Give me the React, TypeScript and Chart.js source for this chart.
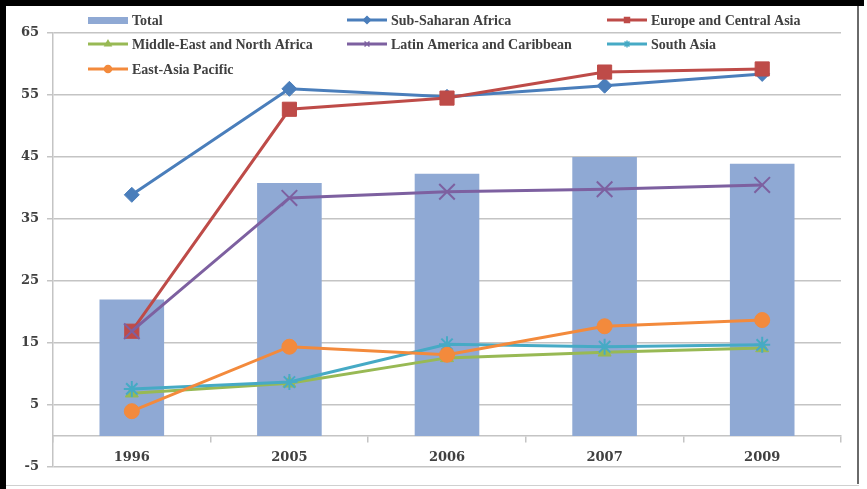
import React, { useEffect, useRef } from "react";
import { Chart, registerables } from "chart.js";
import { drawPoint } from "chart.js/helpers";

Chart.register(...registerables);

// Survey years on the category axis
const years = ["1996", "2005", "2006", "2007", "2009"];

// Series values (percent)
const total = [22, 40.8, 42.3, 45, 43.9];
const subSaharanAfrica = [38.9, 56, 54.7, 56.5, 58.4];
const europeCentralAsia = [16.9, 52.7, 54.5, 58.7, 59.2];
const middleEastNorthAfrica = [6.9, 8.5, 12.6, 13.5, 14.2];
const latinAmericaCaribbean = [16.9, 38.4, 39.4, 39.8, 40.5];
const southAsia = [7.6, 8.7, 14.8, 14.4, 14.7];
const eastAsiaPacific = [4, 14.4, 13.1, 17.7, 18.7];

// Value axis ticks
const yTicks = [-5, 5, 15, 25, 35, 45, 55, 65];

const GRID = "#C4C4C4";
const TEXT = "#404040";

function lineSeries(
  label: string,
  data: number[],
  color: string,
  pointStyle: string,
  radius: number,
  order: number,
  pointBorderWidth = 1
) {
  return {
    type: "line" as const,
    label,
    data,
    borderColor: color,
    backgroundColor: color,
    borderWidth: 3,
    pointStyle,
    pointRadius: radius,
    pointHoverRadius: radius,
    pointBackgroundColor: color,
    pointBorderColor: color,
    pointBorderWidth,
    tension: 0,
    fill: false,
    order,
  };
}

// Three-column legend laid over the top of the plot
const gridLegend = {
  id: "gridLegend",
  afterDraw(chart: any) {
    const ctx: CanvasRenderingContext2D = chart.ctx;
    const cols = [88, 347, 607];
    const rows = [20, 44, 69];
    ctx.save();
    chart.data.datasets.forEach((ds: any, i: number) => {
      const x = cols[i % 3];
      const y = rows[Math.floor(i / 3)];
      if (ds.type === "bar") {
        ctx.fillStyle = ds.backgroundColor;
        ctx.fillRect(x, y - 3, 40, 7);
      } else {
        ctx.strokeStyle = ds.borderColor;
        ctx.lineWidth = 3;
        ctx.beginPath();
        ctx.moveTo(x, y);
        ctx.lineTo(x + 40, y);
        ctx.stroke();
        ctx.fillStyle = ds.borderColor;
        ctx.strokeStyle = ds.borderColor;
        ctx.lineWidth = 1.5;
        drawPoint(ctx, { pointStyle: ds.pointStyle, radius: 3.5, borderWidth: 1.5, rotation: 0 } as any, x + 20, y);
      }
      ctx.fillStyle = TEXT;
      ctx.font = 'bold 14px "Liberation Serif"';
      ctx.textBaseline = "middle";
      ctx.textAlign = "left";
      ctx.fillText(ds.label, x + 44, y + 1);
    });
    ctx.restore();
  },
};

export default function App() {
  const ref = useRef<HTMLCanvasElement>(null);

  useEffect(() => {
    const chart = new Chart(ref.current as HTMLCanvasElement, {
      type: "bar",
      data: {
        labels: years,
        datasets: [
          {
            type: "bar",
            label: "Total",
            data: total,
            backgroundColor: "#8FA9D4",
            borderWidth: 0,
            barPercentage: 0.41,
            categoryPercentage: 1,
            order: 10,
          },
          lineSeries("Sub-Saharan Africa", subSaharanAfrica, "#4A7EBB", "rectRot", 7.5, 6),
          lineSeries("Europe and Central Asia", europeCentralAsia, "#BE4B48", "rect", 10, 5),
          lineSeries("Middle-East and North Africa", middleEastNorthAfrica, "#98B954", "triangle", 7.5, 4),
          lineSeries("Latin America and Caribbean", latinAmericaCaribbean, "#7D60A0", "crossRot", 11, 3, 2),
          lineSeries("South Asia", southAsia, "#46AAC5", "star", 8, 2, 2),
          lineSeries("East-Asia Pacific", eastAsiaPacific, "#F38A3C", "circle", 7.5, 1),
        ] as any,
      },
      options: {
        responsive: false,
        animation: false,
        layout: { padding: { left: 0, right: 26, top: 33, bottom: 22 } },
        plugins: {
          legend: { display: false },
          tooltip: { enabled: false },
        },
        scales: {
          x: {
            position: { y: 0 } as any,
            offset: true,
            grid: {
              offset: true,
              drawOnChartArea: false,
              drawTicks: true,
              tickLength: 6,
              color: GRID,
              lineWidth: 1.5,
            },
            border: { display: true, color: GRID, width: 1.5 },
            ticks: {
              color: TEXT,
              padding: 8,
              font: { family: '"DejaVu Serif"', size: 13, weight: "bold" },
            },
          },
          y: {
            min: -5,
            max: 65,
            afterBuildTicks: (scale: any) => {
              scale.ticks = yTicks.map((v) => ({ value: v }));
            },
            afterFit: (scale: any) => {
              scale.width = 53;
            },
            grid: {
              color: GRID,
              lineWidth: 1.5,
              drawTicks: true,
              tickLength: 6,
            },
            border: { display: true, color: GRID, width: 1.5 },
            ticks: {
              color: TEXT,
              padding: 8,
              font: { family: '"DejaVu Serif"', size: 13, weight: "bold" },
            },
          },
        },
      },
      plugins: [gridLegend],
    });
    return () => chart.destroy();
  }, []);

  return (
    <div
      style={{
        position: "fixed",
        left: 0,
        top: 0,
        width: 867,
        height: 489,
        background: "#fff",
        overflow: "hidden",
      }}
    >
      <canvas
        ref={ref}
        width={867}
        height={489}
        style={{ position: "absolute", left: 0, top: 0, width: 867, height: 489 }}
      />
      <div style={{ position: "absolute", left: 0, top: 0, width: 864, height: 6, background: "#000" }} />
      <div style={{ position: "absolute", left: 0, top: 0, width: 6, height: 489, background: "#000" }} />
      <div style={{ position: "absolute", left: 857, top: 6, width: 2, height: 478, background: "#6a6a6a" }} />
      <div style={{ position: "absolute", left: 6, top: 485, width: 853, height: 1, background: "#d0d0d0" }} />
    </div>
  );
}
